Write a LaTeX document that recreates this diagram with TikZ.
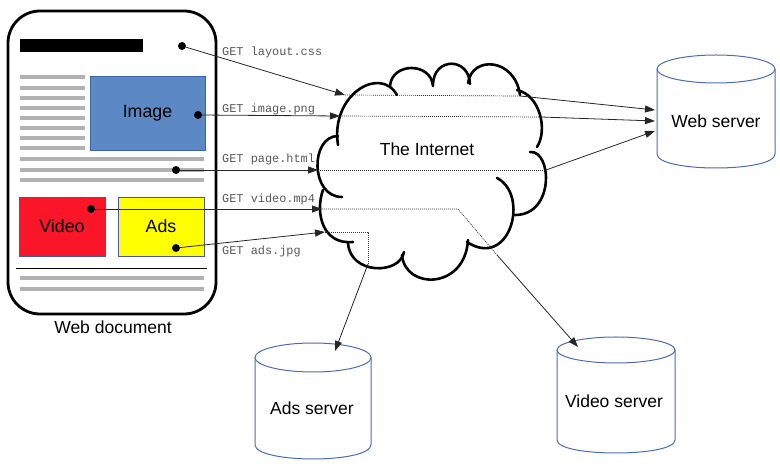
\documentclass[tikz,border=0pt]{standalone}
\usepackage{fontspec}
\setmainfont{Liberation Sans}
\newfontfamily\monof{Liberation Mono}
\usetikzlibrary{arrows.meta}
\definecolor{imgblue}{RGB}{92,136,195}
\definecolor{imgborder}{RGB}{60,100,170}
\definecolor{vidred}{RGB}{250,22,40}
\definecolor{adsyellow}{RGB}{255,255,0}
\definecolor{boxborder}{RGB}{70,90,160}
\definecolor{cylblue}{RGB}{75,108,178}
\newcommand\servercyl[5]{% cx, top-ellipse cy, bottom-ellipse cy, rx, ry
  \draw[cyl] (#1,#2) ellipse [x radius=#4, y radius=#5];
  \draw[cyl] (#1-#4,#2) -- (#1-#4,#3) .. controls (#1-#4,#3+1.333*#5) and (#1+#4,#3+1.333*#5) .. (#1+#4,#3) -- (#1+#4,#2);
}
\begin{document}
\begin{tikzpicture}[x=1pt,y=-1pt,
  conn/.style={line width=0.8pt, draw=black!85},
  arr/.style={conn, -{Triangle[length=10pt,width=7pt]}},
  dotl/.style={line width=0.7pt, draw=black!80, dash pattern=on 1pt off 1pt},
  grayline/.style={line width=4.5pt, draw=black!30},
  dotnode/.style={circle, fill=black, inner sep=0pt, minimum size=8pt},
  getlabel/.style={font=\monof\fontsize{11.9}{12}\selectfont, text=black!65, anchor=west, inner sep=0pt},
  bigtext/.style={font=\fontsize{17.5}{20}\selectfont, inner sep=0pt},
  cyl/.style={draw=cylblue, line width=1pt},
  lobe/.style={line width=2.6pt, line cap=round},
  contentbox/.style={draw=boxborder, line width=0.8pt, inner sep=0pt, font=\fontsize{17.8}{20}\selectfont}
]
\useasboundingbox (0,0) rectangle (780,470);

% ---------- Web document ----------
\draw[line width=2.8pt, rounded corners=32pt] (8,11) rectangle (216,314);
\fill[black] (20,39) rectangle (143,52);
\foreach \yy in {77,88,98,108,118,128,138,148} {\draw[grayline] (20,\yy) -- (85,\yy);}
\foreach \yy in {159,170,180,278,289} {\draw[grayline] (20,\yy) -- (204,\yy);}
\draw[line width=1pt] (16,269) -- (207,269);
\node[contentbox, draw=imgborder, fill=imgblue, minimum width=115pt, minimum height=74pt] (image) at (147.5,113) {Image};
\node[contentbox, fill=vidred, minimum width=86pt, minimum height=59pt] (video) at (62,226.5) {Video};
\node[contentbox, fill=adsyellow, minimum width=86pt, minimum height=59pt] (ads) at (161,226.5) {Ads};
\node[bigtext] (webdoc) at (113,327) {Web document};

% ---------- Cloud ----------
\draw[lobe] (338,145) .. controls (330,95) and (380,65) .. (397,95);
\draw[lobe] (390,86) .. controls (392,62) and (431,62) .. (433,86);
\draw[lobe] (433,84) .. controls (434,57) and (469,57) .. (470,84);
\draw[lobe] (468,83) .. controls (472,55) and (515,58) .. (520,95);
\draw[lobe] (517,90) .. controls (540,95) and (548,130) .. (537,147);
\draw[lobe] (530,152) .. controls (552,150) and (555,215) .. (515,215);
\draw[lobe] (497,178) .. controls (530,195) and (510,270) .. (467,242);
\draw[lobe] (468,240) .. controls (465,290) and (405,290) .. (402,255);
\draw[lobe] (404,252) .. controls (400,275) and (350,275) .. (348,243);
\draw[lobe] (353,242) .. controls (322,245) and (315,212) .. (323,190);
\draw[lobe] (342,197) .. controls (310,197) and (310,136) .. (338,136);
\node[bigtext] (internet) at (427,149) {The Internet};

% ---------- Servers ----------
\servercyl{716}{69}{154}{59}{14}
\node[bigtext] (websrv) at (716,121) {Web server};
\servercyl{313}{357.5}{444.5}{58}{14.5}
\node[bigtext] (adssrv) at (312,408) {Ads server};
\servercyl{616}{350}{440}{59}{13}
\node[bigtext] (vidsrv) at (614,401) {Video server};

% ---------- Coordinates ----------
\coordinate (cin1) at (345,95);  \coordinate (cout1) at (520,96);  \coordinate (ws1) at (655,110);
\coordinate (cin2) at (340,116); \coordinate (cout2) at (541,117); \coordinate (ws2) at (655,121);
\coordinate (cin3) at (318,170); \coordinate (cout3) at (546,170); \coordinate (ws3) at (655,131);
\coordinate (cin4) at (322,209); \coordinate (bend4) at (458,209); \coordinate (cout4) at (497,255); \coordinate (vs) at (578,347);
\coordinate (cin5) at (325,232); \coordinate (bend5) at (368,232); \coordinate (cout5) at (368,264); \coordinate (as) at (335,351);

% ---------- Dots ----------
\node[dotnode] (dlayout) at (182,46) {};
\node[dotnode] (dimage) at (198,115) {};
\node[dotnode] (dpage) at (176,170) {};
\node[dotnode] (dvideo) at (91,209) {};
\node[dotnode] (dads) at (176,248) {};

% ---------- Requests ----------
\draw[arr] (dlayout) -- (cin1);
\draw[arr] (dimage) -- (cin2);
\draw[arr] (dpage) -- (cin3);
\draw[arr] (dvideo) -- (cin4);
\draw[arr] (dads) -- (cin5);

\draw[dotl] (cin1) -- (cout1);
\draw[dotl] (cin2) -- (cout2);
\draw[dotl] (cin3) -- (cout3);
\draw[dotl] (cin4) -- (bend4) -- (cout4);
\draw[dotl] (cin5) -- (bend5) -- (cout5);

\draw[arr] (cout1) -- (ws1);
\draw[arr] (cout2) -- (ws2);
\draw[arr] (cout3) -- (ws3);
\draw[arr] (cout4) -- (vs);
\draw[arr] (cout5) -- (as);

\node[getlabel] (l1) at (222,52) {GET layout.css};
\node[getlabel] (l2) at (222,109) {GET image.png};
\node[getlabel] (l3) at (222,159) {GET page.html};
\node[getlabel] (l4) at (222,199) {GET video.mp4};
\node[getlabel] (l5) at (222,251) {GET ads.jpg};
\end{tikzpicture}
\end{document}
